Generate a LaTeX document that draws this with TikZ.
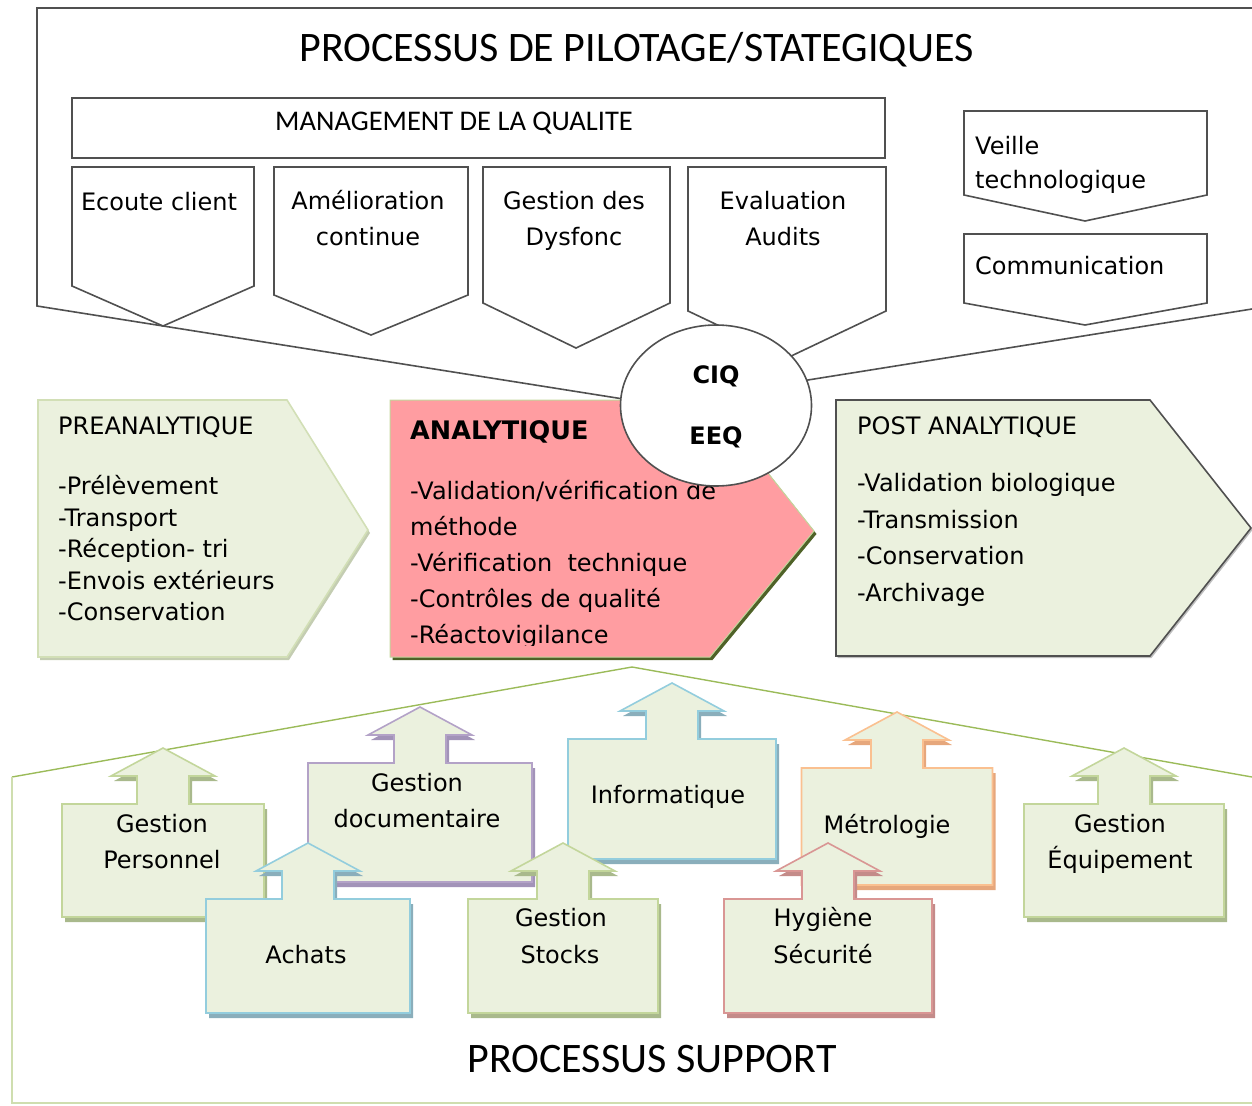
\documentclass[tikz,border=0pt]{standalone}
\usepackage{fontspec}
\usetikzlibrary{shapes.geometric}
\newfontfamily\djf{DejaVu Sans}
\newfontfamily\calf{Carlito}
\definecolor{lgfill}{HTML}{EBF1DE}
\definecolor{pinkfill}{HTML}{FF9DA1}
\definecolor{olive}{HTML}{4F6228}
\definecolor{oliveL}{HTML}{9BBB59}
\definecolor{dgray}{HTML}{505050}
\definecolor{grB}{HTML}{C3D69B}
\definecolor{grS}{HTML}{A9B98C}
\definecolor{puB}{HTML}{B3A2C7}
\definecolor{puS}{HTML}{A293B8}
\definecolor{blB}{HTML}{93CDDD}
\definecolor{blS}{HTML}{8AAEBB}
\definecolor{orB}{HTML}{FAC090}
\definecolor{orS}{HTML}{E6A77C}
\definecolor{reB}{HTML}{D99694}
\definecolor{reS}{HTML}{C48B89}
\definecolor{preB}{HTML}{D2DFB6}
\definecolor{preS}{HTML}{C4CDB2}
\newcommand\upath[4]{({#1-#2},#3) -- ({#1-26},#3) -- ({#1-26},{#3-28}) -- ({#1-52},{#3-28}) -- (#1,{#3-56}) -- ({#1+52},{#3-28}) -- ({#1+26},{#3-28}) -- ({#1+26},#3) -- ({#1+#2},#3) -- ({#1+#2},#4) -- ({#1-#2},#4) -- cycle}
\newcommand\upbox[6]{%
  \fill[#6] [shift={(3,5)}] \upath{#1}{#2}{#3}{#4};
  \filldraw[fill=lgfill, draw=#5, line width=1.6pt] \upath{#1}{#2}{#3}{#4};
}
\newcommand\dpath[6]{(#1,#3) -- (#2,#3) -- (#2,#4) -- (#5,#6) -- (#1,#4) -- cycle}
\begin{document}
\begin{tikzpicture}[x=1pt,y=-1pt,
  tx/.style={font=\djf\fontsize{24}{28}\selectfont, inner sep=0pt, text height=17.5pt, text depth=0pt},
  txl/.style={tx, anchor=west},
  txb/.style={font=\djf\bfseries\fontsize{24}{28}\selectfont, inner sep=0pt, text height=17.5pt, text depth=0pt},
  big/.style={font=\calf\fontsize{42}{46}\selectfont, inner sep=0pt, text height=27pt, text depth=0pt},
  frm/.style={draw=dgray, line width=1.6pt},
  dshape/.style={fill=white, draw=dgray, line width=1.6pt, line join=miter},
]
\useasboundingbox (0,0) rectangle (1252,1105);

% ---------- Pilotage frame ----------
\draw[frm] (1260,8) -- (37,8) -- (37,306) -- (716,413.7);
\draw[frm] (1262,307.4) -- (716,394.7);
\node[big] (titre) at (636.5,48.5) {PROCESSUS DE PILOTAGE/STATEGIQUES};

\draw[frm] (72,98) rectangle (885,158);
\node[font=\calf\fontsize{28.5}{32}\selectfont, inner sep=0pt, text height=18pt, text depth=0pt] (mq) at (454,121.5) {MANAGEMENT DE LA QUALITE};

\filldraw[dshape] \dpath{72}{254}{167}{286}{163}{326};
\filldraw[dshape] \dpath{274}{468}{167}{295}{371}{335};
\filldraw[dshape] \dpath{483}{670}{167}{303}{576}{348};
\filldraw[dshape] \dpath{688}{886}{167}{311}{787}{358};
\filldraw[dshape] \dpath{964}{1207}{111}{195}{1085}{221};
\filldraw[dshape] \dpath{964}{1207}{234}{303}{1085}{325};

\node[tx] (ec) at (159,202) {Ecoute client};
\node[tx] (am1) at (368,201) {Amélioration};
\node[tx] (am2) at (368,237) {continue};
\node[tx] (gd1) at (574,201) {Gestion des};
\node[tx] (gd2) at (574,237) {Dysfonc};
\node[tx] (ea1) at (783,201) {Evaluation};
\node[tx] (ea2) at (783,237) {Audits};
\node[txl] (vt1) at (975,146) {Veille};
\node[txl] (vt2) at (975,180) {technologique};
\node[txl] (com) at (975,266) {Communication};

% ---------- Middle row ----------
\fill[preS] [shift={(2,3)}] (38,400) -- (287,400) -- (368,530) -- (287,657) -- (38,657) -- cycle;
\filldraw[fill=lgfill, draw=preB, line width=1.6pt] (38,400) -- (287,400) -- (368,530) -- (287,657) -- (38,657) -- cycle;

\fill[olive] [shift={(2.5,3)}] (390,400) -- (710,400) -- (814,531) -- (710,657) -- (390,657) -- cycle;
\filldraw[fill=pinkfill, draw=oliveL!60, line width=1pt] (390,400) -- (710,400) -- (814,531) -- (710,657) -- (390,657) -- cycle;

\fill[black!25] [shift={(1.5,2)}] (836,400) -- (1150,400) -- (1251,528) -- (1150,656) -- (836,656) -- cycle;
\filldraw[fill=lgfill, draw=dgray, line width=1.6pt] (836,400) -- (1150,400) -- (1251,528) -- (1150,656) -- (836,656) -- cycle;

\node[txl] (pre) at (58,426) {PREANALYTIQUE};
\node[txl] (pre1) at (58,486) {-Prélèvement};
\node[txl] (pre2) at (58,517.5) {-Transport};
\node[txl] (pre3) at (58,549) {-Réception- tri};
\node[txl] (pre4) at (58,580.5) {-Envois extérieurs};
\node[txl] (pre5) at (58,612) {-Conservation};

\node[txb, anchor=west, font=\djf\bfseries\fontsize{25.5}{28}\selectfont, text height=18.5pt] (ana) at (410,430) {ANALYTIQUE};
\begin{scope}
\clip (390,400) rectangle (830,645);
\node[txl] (ana1) at (410,491) {-Validation/vérification de};
\node[txl] (ana2) at (410,527) {méthode};
\node[txl] (ana3) at (410,563) {-Vérification\ \ technique};
\node[txl] (ana4) at (410,599) {-Contrôles de qualité};
\node[txl] (ana5) at (410,635) {-Réactovigilance};
\end{scope}

\node[txl] (post) at (857,426) {POST ANALYTIQUE};
\node[txl] (post1) at (857,483) {-Validation biologique};
\node[txl] (post2) at (857,519.5) {-Transmission};
\node[txl] (post3) at (857,556) {-Conservation};
\node[txl] (post4) at (857,593) {-Archivage};

% ---------- CIQ / EEQ ----------
\node[ellipse, draw=dgray, line width=1.6pt, fill=white, minimum width=191pt, minimum height=161pt, inner sep=0pt] (cercle) at (716,405.5) {};
\node[txb] (ciq) at (716,375) {CIQ};
\node[txb] (eeq) at (716,436) {EEQ};

% ---------- Support ----------
\draw[oliveL, line width=1.4pt] (12,777) -- (632,667) -- (1252,777);
\draw[grB!80, line width=2.5pt] (12,777) -- (12,1103) -- (1252,1103);

\upbox{163}{101}{804}{917}{grB}{grS}
\upbox{420}{112}{763}{882}{puB}{puS}
\upbox{672}{104}{739}{859}{blB}{blS}
\upbox{897}{95.5}{768}{885}{orB}{orS}
\upbox{1124}{100}{804}{917}{grB}{grS}
\upbox{308}{102}{899}{1013}{blB}{blS}
\upbox{563}{95}{899}{1013}{grB}{grS}
\upbox{828}{104}{899}{1013}{reB}{reS}

\node[tx] (gp1) at (162,823.5) {Gestion};
\node[tx] (gp2) at (162,860) {Personnel};
\node[tx] (gdo1) at (417,783) {Gestion};
\node[tx] (gdo2) at (417,819) {documentaire};
\node[tx] (inf) at (668,795) {Informatique};
\node[tx] (met) at (887,825) {Métrologie};
\node[tx] (ge1) at (1120,823.5) {Gestion};
\node[tx] (ge2) at (1120,860) {Équipement};
\node[tx] (ach) at (306,955) {Achats};
\node[tx] (gs1) at (561,918) {Gestion};
\node[tx] (gs2) at (560,955) {Stocks};
\node[tx] (hy1) at (823,918) {Hygiène};
\node[tx] (hy2) at (823,955) {Sécurité};

\node[big] (sup) at (652,1059) {PROCESSUS SUPPORT};
\end{tikzpicture}
\end{document}
